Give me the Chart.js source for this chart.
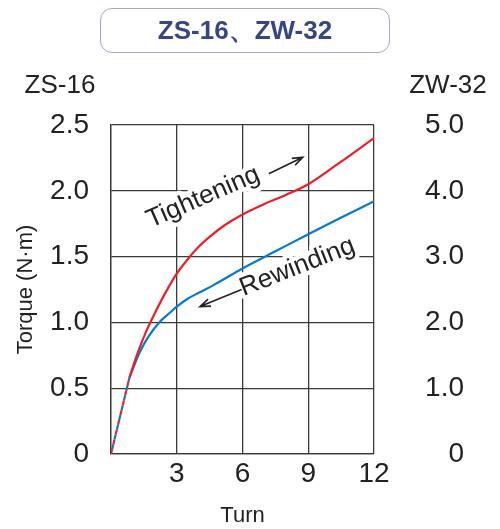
<!DOCTYPE html>
<html>
<head>
<meta charset="utf-8">
<script src="https://cdn.jsdelivr.net/npm/chart.js@4"></script>
<style>
  html, body { margin: 0; padding: 0; background: #fff; }
  #wrap { position: relative; width: 500px; height: 529px; }
  #title {
    position: absolute; left: 100px; top: 8px; width: 290px; height: 45px;
    box-sizing: border-box; border: 1.5px solid #a3a6d0; border-radius: 12px;
    font: bold 26px 'Liberation Sans', Arial, sans-serif; color: #374680;
    text-align: center; line-height: 42px;
  }
  canvas { position: absolute; left: 0; top: 0; }
</style>
</head>
<body>
<div id="wrap">
  <canvas id="chart" width="500" height="529"></canvas>
  <div id="title">ZS-16、ZW-32</div>
</div>
<script>
const FONT = "'Liberation Sans', Arial, sans-serif";

// start of both curves (dashed part)
const startTurns = [0, 0.84];
const startTorque = [0, 0.58];

// tightening curve (red)
const tightTurns = [0.84, 1.2, 1.6, 2.0, 2.5, 3.0, 3.5, 4.0, 4.5, 5.2, 6.0, 7.0, 8.0, 9.0, 10.4, 12.0];
const tightTorque = [0.58, 0.76, 0.93, 1.07, 1.23, 1.37, 1.48, 1.575, 1.65, 1.74, 1.82, 1.90, 1.97, 2.05, 2.21, 2.40];

// rewinding curve (blue)
const rewindTurns = [0.84, 1.3, 1.7, 2.2, 2.7, 3.0, 3.5, 4.0, 4.7, 6.0, 7.5, 9.0, 10.3, 12.0];
const rewindTorque = [0.58, 0.77, 0.89, 1.0, 1.075, 1.12, 1.18, 1.225, 1.285, 1.41, 1.54, 1.67, 1.78, 1.92];

const turnTicks = [3, 6, 9, 12];
const zsTicks = [0, 0.5, 1.0, 1.5, 2.0, 2.5];
const zwTicks = [0, 1.0, 2.0, 3.0, 4.0, 5.0];

const RED = '#e8202a';
const BLUE = '#0a7ac6';
const GRID = '#3a3a3a';

const pts = (xs, ys) => xs.map((x, i) => ({ x, y: ys[i] }));
const fmt = v => v === 0 ? '0' : v.toFixed(1);

function arrow(ctx, x1, y1, x2, y2) {
  const a = Math.atan2(y2 - y1, x2 - x1);
  ctx.beginPath();
  ctx.moveTo(x1, y1);
  ctx.lineTo(x2, y2);
  ctx.moveTo(x2 - 11 * Math.cos(a - 0.35), y2 - 11 * Math.sin(a - 0.35));
  ctx.lineTo(x2, y2);
  ctx.lineTo(x2 - 11 * Math.cos(a + 0.35), y2 - 11 * Math.sin(a + 0.35));
  ctx.stroke();
}

function label(ctx, text, x, y, angle) {
  ctx.save();
  ctx.translate(x, y);
  ctx.rotate(angle);
  ctx.font = '26px ' + FONT;
  ctx.textAlign = 'center';
  ctx.textBaseline = 'middle';
  ctx.strokeStyle = '#fff';
  ctx.lineWidth = 9;
  ctx.lineJoin = 'round';
  ctx.strokeText(text, 0, 0);
  ctx.fillStyle = '#222';
  ctx.fillText(text, 0, 0);
  ctx.restore();
}

const notes = {
  id: 'notes',
  beforeDatasetsDraw(chart) {
    const ctx = chart.ctx;
    const sx = chart.scales.x, sy = chart.scales.y;
    const X = v => sx.getPixelForValue(v), Y = v => sy.getPixelForValue(v);
    label(ctx, 'Tightening', X(4.2), Y(1.95), -23.4 * Math.PI / 180);
    label(ctx, 'Rewinding', X(8.5), Y(1.42), -21.5 * Math.PI / 180);
    ctx.save();
    ctx.strokeStyle = '#222';
    ctx.lineWidth = 1.6;
    arrow(ctx, X(7.2), Y(2.13), X(8.75), Y(2.255));
    arrow(ctx, X(5.96), Y(1.25), X(4.06), Y(1.12));
    ctx.restore();
  },
  afterDraw(chart) {
    const ctx = chart.ctx;
    ctx.save();
    ctx.font = '26px ' + FONT;
    ctx.fillStyle = '#222';
    ctx.textAlign = 'center';
    ctx.textBaseline = 'middle';
    ctx.fillText('ZS-16', 60, 86);
    ctx.fillText('ZW-32', 448, 86);
    ctx.restore();
  }
};

new Chart(document.getElementById('chart'), {
  type: 'line',
  data: {
    datasets: [
      {
        data: pts(startTurns, startTorque),
        borderColor: RED, borderWidth: 2.2, borderDash: [5, 5],
        pointRadius: 0
      },
      {
        data: pts(startTurns, startTorque),
        borderColor: BLUE, borderWidth: 2.2, borderDash: [5, 5], borderDashOffset: 5,
        pointRadius: 0
      },
      {
        label: 'Tightening',
        data: pts(tightTurns, tightTorque),
        borderColor: RED, borderWidth: 2.2,
        cubicInterpolationMode: 'monotone', pointRadius: 0
      },
      {
        label: 'Rewinding',
        data: pts(rewindTurns, rewindTorque),
        borderColor: BLUE, borderWidth: 2.2,
        cubicInterpolationMode: 'monotone', pointRadius: 0
      }
    ]
  },
  options: {
    responsive: false,
    devicePixelRatio: 1,
    animation: false,
    layout: { padding: { top: 125, left: 0, right: 36, bottom: 0 } },
    plugins: { legend: { display: false }, tooltip: { enabled: false } },
    scales: {
      x: {
        type: 'linear', min: 0, max: 12,
        afterBuildTicks: s => { s.ticks = [0, ...turnTicks].map(v => ({ value: v })); },
        afterFit: s => { s.height = 75; },
        ticks: {
          callback: v => v === 0 ? '' : String(v),
          font: { size: 28, family: FONT }, color: '#222', padding: 3, maxRotation: 0
        },
        grid: { color: GRID, lineWidth: 1.3, drawTicks: false },
        border: { color: GRID, width: 1.3 },
        title: { display: true, text: 'Turn', font: { size: 22, family: FONT }, color: '#222', padding: { top: 0, bottom: 0 } }
      },
      y: {
        position: 'left', min: 0, max: 2.5,
        afterBuildTicks: s => { s.ticks = zsTicks.map(v => ({ value: v })); },
        afterFit: s => { s.width = 111; },
        ticks: {
          callback: fmt,
          font: { size: 28, family: FONT }, color: '#222', padding: 22
        },
        grid: { color: GRID, lineWidth: 1.3, drawTicks: false },
        border: { color: GRID, width: 1.3 },
        title: { display: true, text: 'Torque (N·m)', font: { size: 22, family: FONT }, color: '#222', padding: { top: 13, bottom: 0 } }
      },
      y2: {
        position: 'right', min: 0, max: 5,
        afterBuildTicks: s => { s.ticks = zwTicks.map(v => ({ value: v })); },
        afterFit: s => { s.width = 90; },
        ticks: {
          callback: fmt, crossAlign: 'far',
          font: { size: 28, family: FONT }, color: '#222', padding: 51
        },
        grid: { display: false, drawTicks: false },
        border: { display: false }
      }
    }
  },
  plugins: [notes]
});
</script>
</body>
</html>
